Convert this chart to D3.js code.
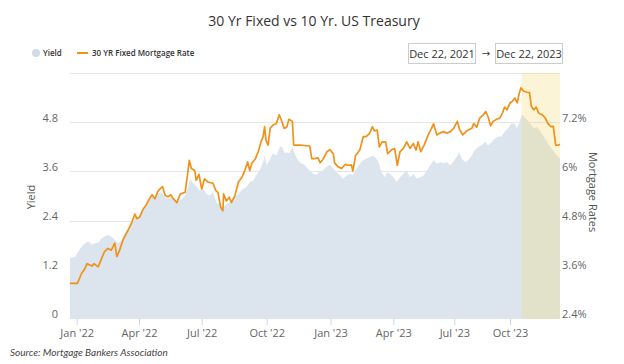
<!DOCTYPE html>
<html>
<head>
<meta charset="utf-8">
<script src="https://cdn.jsdelivr.net/npm/d3@7"></script>
<style>
  body { margin: 0; background: #fff; }
  text { font-family: "Open Sans", sans-serif; }
</style>
</head>
<body>
<svg id="svg1" width="624" height="364"></svg>
<script>
// values
const yieldDates = ["2021-12-22","2021-12-30","2022-01-03","2022-01-08","2022-01-13","2022-01-18","2022-01-23","2022-01-27","2022-02-01","2022-02-06","2022-02-10","2022-02-15","2022-02-20","2022-02-25","2022-03-02","2022-03-07","2022-03-11","2022-03-16","2022-03-21","2022-03-26","2022-03-31","2022-04-05","2022-04-09","2022-04-14","2022-04-19","2022-04-24","2022-04-29","2022-05-03","2022-05-09","2022-05-13","2022-05-18","2022-05-23","2022-05-28","2022-06-02","2022-06-07","2022-06-12","2022-06-14","2022-06-19","2022-06-23","2022-06-28","2022-07-03","2022-07-08","2022-07-12","2022-07-17","2022-07-22","2022-07-26","2022-07-31","2022-08-05","2022-08-09","2022-08-14","2022-08-19","2022-08-24","2022-08-28","2022-09-02","2022-09-07","2022-09-12","2022-09-16","2022-09-21","2022-09-26","2022-09-28","2022-10-01","2022-10-06","2022-10-10","2022-10-15","2022-10-20","2022-10-23","2022-10-27","2022-10-30","2022-11-03","2022-11-07","2022-11-10","2022-11-15","2022-11-20","2022-11-24","2022-11-29","2022-12-02","2022-12-07","2022-12-11","2022-12-16","2022-12-21","2022-12-26","2022-12-31","2023-01-05","2023-01-10","2023-01-15","2023-01-19","2023-01-24","2023-01-29","2023-02-02","2023-02-07","2023-02-12","2023-02-17","2023-02-21","2023-02-26","2023-03-03","2023-03-08","2023-03-11","2023-03-15","2023-03-20","2023-03-23","2023-03-27","2023-04-01","2023-04-06","2023-04-11","2023-04-16","2023-04-21","2023-04-26","2023-05-01","2023-05-06","2023-05-11","2023-05-16","2023-05-21","2023-05-26","2023-05-31","2023-06-05","2023-06-10","2023-06-15","2023-06-20","2023-06-25","2023-06-29","2023-07-05","2023-07-09","2023-07-13","2023-07-19","2023-07-24","2023-07-30","2023-08-04","2023-08-10","2023-08-15","2023-08-21","2023-08-26","2023-09-01","2023-09-06","2023-09-12","2023-09-17","2023-09-22","2023-09-28","2023-10-03","2023-10-09","2023-10-12","2023-10-16","2023-10-20","2023-10-24","2023-10-29","2023-11-03","2023-11-09","2023-11-14","2023-11-20","2023-11-25","2023-12-01","2023-12-06","2023-12-12","2023-12-17","2023-12-22"];
const yieldValues = [1.49,1.52,1.64,1.76,1.85,1.89,1.81,1.85,1.86,1.97,2.01,2.05,2.01,1.93,1.85,1.93,2.09,2.17,2.34,2.49,2.49,2.64,2.72,2.84,3.01,2.93,3.05,3.09,2.97,2.93,2.98,2.88,2.87,2.93,3.01,3.25,3.42,3.30,3.25,3.13,3.17,3.05,3.01,3.09,2.84,2.80,2.72,2.80,2.84,2.93,3.01,3.09,3.17,3.21,3.34,3.38,3.50,3.62,3.83,3.99,3.75,3.91,4.04,3.99,4.20,4.20,4.04,4.07,4.04,4.20,4.04,3.87,3.79,3.77,3.67,3.62,3.54,3.52,3.58,3.62,3.71,3.77,3.67,3.58,3.50,3.42,3.50,3.54,3.50,3.67,3.79,3.87,3.91,3.95,3.99,3.91,3.83,3.58,3.46,3.58,3.54,3.46,3.34,3.46,3.54,3.62,3.46,3.54,3.42,3.46,3.50,3.62,3.75,3.87,3.79,3.83,3.79,3.83,3.75,3.83,3.95,4.08,3.91,3.83,3.87,3.99,4.12,4.20,4.24,4.32,4.24,4.32,4.40,4.45,4.45,4.57,4.65,4.77,4.77,4.65,4.77,4.98,4.94,4.86,4.77,4.65,4.69,4.57,4.45,4.32,4.20,4.08,3.99,3.91];

const rateDates = ["2021-12-22","2022-01-02","2022-01-08","2022-01-13","2022-01-16","2022-01-23","2022-01-26","2022-02-01","2022-02-06","2022-02-10","2022-02-15","2022-02-20","2022-02-25","2022-02-28","2022-03-04","2022-03-09","2022-03-16","2022-03-21","2022-03-26","2022-03-29","2022-04-02","2022-04-07","2022-04-12","2022-04-16","2022-04-20","2022-04-24","2022-04-29","2022-05-05","2022-05-09","2022-05-13","2022-05-17","2022-05-21","2022-05-26","2022-05-31","2022-06-07","2022-06-10","2022-06-13","2022-06-16","2022-06-21","2022-06-23","2022-06-27","2022-07-01","2022-07-05","2022-07-10","2022-07-17","2022-07-21","2022-07-24","2022-07-28","2022-07-31","2022-08-01","2022-08-05","2022-08-09","2022-08-12","2022-08-17","2022-08-22","2022-08-27","2022-08-31","2022-09-04","2022-09-07","2022-09-10","2022-09-15","2022-09-19","2022-09-23","2022-09-26","2022-09-28","2022-09-30","2022-10-03","2022-10-06","2022-10-10","2022-10-15","2022-10-19","2022-10-22","2022-10-26","2022-10-30","2022-11-02","2022-11-07","2022-11-09","2022-11-18","2022-12-02","2022-12-05","2022-12-09","2022-12-14","2022-12-17","2022-12-21","2022-12-27","2022-12-31","2023-01-05","2023-01-07","2023-01-12","2023-01-17","2023-01-22","2023-01-26","2023-01-31","2023-02-02","2023-02-06","2023-02-12","2023-02-17","2023-02-21","2023-02-26","2023-03-02","2023-03-05","2023-03-09","2023-03-12","2023-03-16","2023-03-21","2023-03-24","2023-03-29","2023-04-03","2023-04-07","2023-04-11","2023-04-16","2023-04-21","2023-04-26","2023-05-01","2023-05-05","2023-05-08","2023-05-12","2023-05-17","2023-05-23","2023-05-28","2023-05-31","2023-06-05","2023-06-10","2023-06-15","2023-06-20","2023-06-25","2023-06-30","2023-07-06","2023-07-10","2023-07-15","2023-07-20","2023-07-24","2023-07-30","2023-08-02","2023-08-07","2023-08-12","2023-08-18","2023-08-22","2023-08-26","2023-08-30","2023-09-03","2023-09-09","2023-09-14","2023-09-19","2023-09-22","2023-09-26","2023-10-01","2023-10-05","2023-10-09","2023-10-13","2023-10-16","2023-10-19","2023-10-23","2023-10-29","2023-11-02","2023-11-05","2023-11-09","2023-11-13","2023-11-17","2023-11-23","2023-11-28","2023-12-02","2023-12-07","2023-12-11","2023-12-15","2023-12-19","2023-12-22"];
const rateValues = [3.27,3.27,3.51,3.63,3.75,3.69,3.75,3.67,3.88,4.04,4.12,4.08,4.25,3.92,4.08,4.33,4.56,4.73,4.96,4.85,4.89,5.08,5.20,5.33,5.43,5.33,5.53,5.63,5.41,5.38,5.43,5.33,5.24,5.45,5.49,5.86,6.27,6.07,6.02,5.78,5.93,5.57,5.82,5.74,5.71,5.53,5.49,5.12,5.04,5.45,5.28,5.37,5.24,5.41,5.74,5.86,6.02,6.23,6.02,6.20,6.31,6.48,6.72,6.85,7.09,6.76,6.64,7.05,7.13,7.17,7.38,7.26,7.05,7.08,7.27,7.22,6.64,6.64,6.62,6.31,6.31,6.33,6.21,6.29,6.48,6.53,6.43,6.20,6.11,6.07,6.17,6.15,6.16,6.01,6.39,6.52,6.85,6.85,6.93,7.09,6.99,7.01,6.60,6.72,6.72,6.43,6.52,6.56,6.15,6.48,6.56,6.72,6.56,6.68,6.52,6.72,6.48,6.64,6.89,7.05,7.16,6.89,6.94,6.97,6.93,6.97,7.05,7.22,7.01,6.89,6.97,7.01,7.05,7.17,7.08,7.30,7.38,7.46,7.32,7.11,7.22,7.27,7.30,7.44,7.57,7.50,7.67,7.71,7.79,7.67,7.90,8.04,7.96,7.93,7.92,7.59,7.50,7.57,7.42,7.38,7.30,7.17,7.09,7.10,6.64,6.64,6.66];

const xTickDates = ["2022-01-01","2022-04-01","2022-07-01","2022-10-01","2023-01-01","2023-04-01","2023-07-01","2023-10-01"];
const yieldTicks = [0, 1.2, 2.4, 3.6, 4.8, 6];
const yieldLabels = ["0", "1.2", "2.4", "3.6", "4.8", ""];
const rateTicks = [2.4, 3.6, 4.8, 6, 7.2, 8.4];
const rateLabels = ["2.4%", "3.6%", "4.8%", "6%", "7.2%", ""];
const shadeStart = "2023-10-20";
const rangeLabels = ["Dec 22, 2021", "Dec 22, 2023"];

const parse = d3.timeParse("%Y-%m-%d");
const yieldData = yieldDates.map((d, i) => ({date: parse(d), v: yieldValues[i]}));
const rateData = rateDates.map((d, i) => ({date: parse(d), v: rateValues[i]}));

const svg = d3.select("#svg1"),
      plotLeft = 70, plotRight = 560, plotTop = 73, plotBottom = 319;

// stock-style axis: quarters do not all get the same width
const x = d3.scaleTime()
    .domain(["2021-12-22","2022-01-01","2022-04-01","2022-07-01","2022-10-01","2023-01-01","2023-04-01","2023-07-01","2023-10-01","2023-12-22"].map(parse))
    .range([plotLeft, 76.7, 139, 201.7, 266.7, 330.5, 393.3, 454.3, 510, plotRight]);
const y = d3.scaleLinear().domain([0, 6]).range([plotBottom, plotTop]);
const y2 = d3.scaleLinear().domain([2.4, 8.4]).range([plotBottom, plotTop]);

// title
svg.append("text")
    .attr("x", 314).attr("y", 26)
    .attr("text-anchor", "middle")
    .style("font-size", "14px")
    .style("fill", "#333")
    .text("30 Yr Fixed vs 10 Yr. US Treasury");

// legend
svg.append("circle").attr("cx", 36).attr("cy", 53).attr("r", 4).attr("fill", "#cfdbe7");
svg.append("text").attr("x", 43).attr("y", 56)
    .style("font-size", "8px").style("font-weight", "600").style("fill", "#333")
    .text("Yield");
svg.append("line").attr("x1", 77).attr("x2", 88).attr("y1", 53).attr("y2", 53)
    .attr("stroke", "#f0921a").attr("stroke-width", 2);
svg.append("text").attr("x", 92).attr("y", 56)
    .style("font-size", "8px").style("font-weight", "600").style("fill", "#333")
    .text("30 YR Fixed Mortgage Rate");

// date range boxes
[408, 495].forEach((bx, i) => {
  svg.append("rect")
      .attr("x", bx + 0.5).attr("y", 43.5)
      .attr("width", 67).attr("height", 20)
      .attr("fill", "#fff").attr("stroke", "#cccccc");
  svg.append("text")
      .attr("x", bx + 34).attr("y", 57.5)
      .attr("text-anchor", "middle")
      .style("font-size", "11px").style("fill", "#333")
      .text(rangeLabels[i]);
});
svg.append("text").attr("x", 486).attr("y", 57)
    .attr("text-anchor", "middle")
    .style("font-size", "10px").style("fill", "#333")
    .style("font-family", "DejaVu Sans")
    .text("\u2192");

// grid lines
svg.append("g")
  .selectAll("line")
  .data(yieldTicks.slice(1))
  .enter().append("line")
    .attr("x1", plotLeft).attr("x2", plotRight)
    .attr("y1", d => Math.round(y(d)) + 0.5)
    .attr("y2", d => Math.round(y(d)) + 0.5)
    .attr("stroke", "#e6e6e6");

// yield area
svg.append("path")
    .datum(yieldData)
    .attr("fill", "#dce5ee")
    .attr("d", d3.area().x(d => x(d.date)).y0(plotBottom).y1(d => y(d.v)));

// highlighted range
svg.append("rect")
    .attr("x", x(parse(shadeStart))).attr("y", plotTop)
    .attr("width", plotRight - x(parse(shadeStart))).attr("height", plotBottom - plotTop)
    .attr("fill", "rgba(245,215,110,0.28)");

// mortgage rate line
svg.append("path")
    .datum(rateData)
    .attr("fill", "none")
    .attr("stroke", "#f0921a")
    .attr("stroke-width", 1.7)
    .attr("stroke-linejoin", "round")
    .attr("d", d3.line().x(d => x(d.date)).y(d => y2(d.v)));

// x axis
const xAxis = svg.append("g")
    .attr("transform", `translate(0,${plotBottom})`)
    .call(d3.axisBottom(x).tickValues(xTickDates.map(parse)).tickFormat(d3.timeFormat("%b '%y")).tickSize(6).tickSizeOuter(0));
xAxis.select(".domain").remove();
xAxis.selectAll(".tick line").attr("stroke", "#ccd6eb");
xAxis.selectAll(".tick text").attr("y", 10).style("font-size", "11px").style("fill", "#666").style("font-family", "Open Sans");

// left axis
const yAxis = svg.append("g")
    .attr("transform", `translate(${plotLeft - 12},0)`)
    .call(d3.axisLeft(y).tickValues(yieldTicks).tickFormat((d, i) => yieldLabels[i]).tickSize(0));
yAxis.select(".domain").remove();
yAxis.selectAll(".tick text").attr("x", 0).attr("dy", "-0.1em")
    .style("font-size", "11px").style("fill", "#666").style("font-family", "Open Sans");

// right axis
const y2Axis = svg.append("g")
    .attr("transform", `translate(${plotRight + 2},0)`)
    .call(d3.axisRight(y2).tickValues(rateTicks).tickFormat((d, i) => rateLabels[i]).tickSize(0));
y2Axis.select(".domain").remove();
y2Axis.selectAll(".tick text").attr("x", 0).attr("dy", "-0.1em")
    .style("font-size", "11px").style("fill", "#666").style("font-family", "Open Sans");

// axis titles
svg.append("text")
    .attr("transform", "translate(35,197) rotate(-90)")
    .attr("text-anchor", "middle")
    .style("font-size", "11px").style("fill", "#555")
    .text("Yield");
svg.append("text")
    .attr("transform", "translate(589,192) rotate(90)")
    .attr("text-anchor", "middle")
    .style("font-size", "11px").style("fill", "#555")
    .text("Mortgage Rates");

// source note
svg.append("text")
    .attr("x", 10).attr("y", 356)
    .style("font-size", "10px").style("font-style", "italic").style("fill", "#444")
    .style("font-family", "Lato")
    .text("Source: Mortgage Bankers Association");
</script>
</body>
</html>
